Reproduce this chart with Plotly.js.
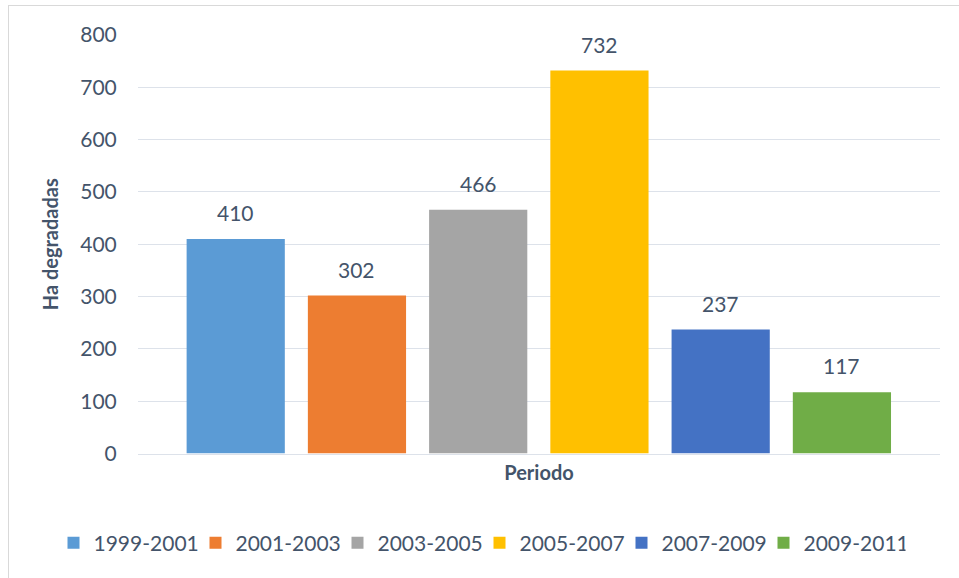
<!DOCTYPE html>
<html><head><meta charset="utf-8">
<script src="https://cdn.plot.ly/plotly-3.0.1.min.js"></script>
<style>
html,body{margin:0;padding:0;background:#fff;overflow:hidden;}
#frame{position:absolute;left:8px;top:5px;width:960px;height:580px;border:1px solid #d9d9d9;box-sizing:border-box;}
#chart{position:absolute;left:0;top:0;width:959px;height:578px;}
</style></head>
<body>
<div id="frame"></div>
<div id="chart"></div>
<script>
var periods = ["1999-2001","2001-2003","2003-2005","2005-2007","2007-2009","2009-2011"];
var values = [410, 302, 466, 732, 237, 117];
var colors = ["#5b9bd5","#ed7d31","#a5a5a5","#ffc000","#4472c4","#70ad47"];
var yTicks = [0,100,200,300,400,500,600,700,800];

var font = "Lato, 'Open Sans', sans-serif";
var textColor = "#44546a";
var W = 959, H = 578;

var traces = periods.map(function(p,i){
  return {
    type:'bar', name:p, x:[p], y:[values[i]], width:0.81,
    marker:{color:colors[i]}, hoverinfo:'none'
  };
});

var annotations = periods.map(function(p,i){
  return {x:p, y:values[i], xref:'x', yref:'y', text:String(values[i]),
          showarrow:false, yanchor:'bottom', yshift:12,
          font:{family:font,size:21,color:textColor}};
});

var layout = {
  width:W, height:H,
  margin:{l:0,r:0,t:0,b:0,pad:0},
  paper_bgcolor:'rgba(0,0,0,0)', plot_bgcolor:'rgba(0,0,0,0)',
  barmode:'overlay',
  font:{family:font,color:textColor},
  showlegend:true,
  legend:{orientation:'h', x:0.5, xanchor:'center',
          y:1-543/H, yanchor:'middle', entrywidth:97, entrywidthmode:'pixels',
          font:{family:font,size:21,color:textColor}, itemwidth:30, tracegroupgap:0},
  annotations:annotations,
  xaxis:{type:'category', domain:[138/W, 940/W], range:[-0.806,5.809], showticklabels:false, showgrid:false,
         showline:true, linecolor:'#dde2ea', linewidth:1, ticks:'', automargin:false,
         title:{text:'<b>Periodo</b>', font:{family:font,size:20,color:textColor}, standoff:12},
         fixedrange:true},
  yaxis:{domain:[1-453.5/H, 1-35/H], range:[0,800], tickvals:yTicks, ticktext:yTicks.map(String),
         showgrid:true, gridcolor:'#dde2ea', gridwidth:1, zeroline:false, automargin:false,
         ticks:'outside', ticklen:16, tickcolor:'rgba(0,0,0,0)',
         tickfont:{family:font,size:21,color:textColor},
         title:{text:'<b>Ha degradadas</b>', font:{family:font,size:20,color:textColor}, standoff:16},
         fixedrange:true}
};
Plotly.newPlot('chart', traces, layout, {displayModeBar:false, staticPlot:true});
</script>
</body></html>
